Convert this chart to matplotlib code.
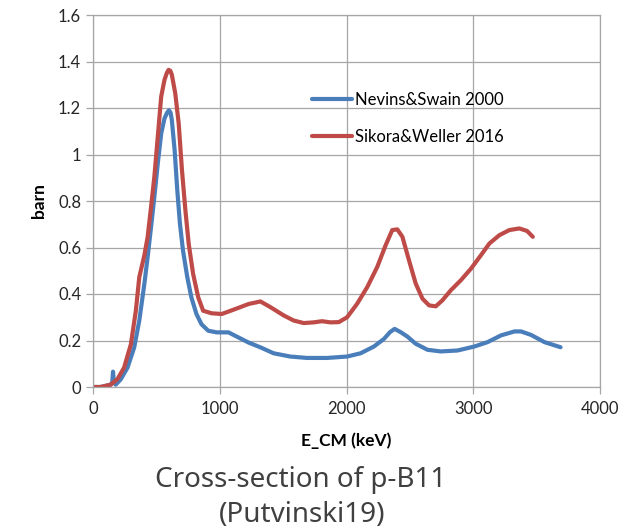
import matplotlib
matplotlib.use("Agg")
import matplotlib.pyplot as plt

# Nevins & Swain 2000
ns_e = [0, 60, 139, 152, 158, 165, 179, 219, 272, 325, 365, 405, 431, 458, 484, 511, 538, 564,
        585, 599, 612, 622, 644, 665, 686, 710, 744, 776, 816, 856, 909, 976, 1069, 1148, 1228,
        1319, 1425, 1557, 1689, 1847, 2005, 2111, 2216, 2296, 2343, 2380, 2427, 2480, 2546,
        2639, 2744, 2876, 3008, 3113, 3219, 3325, 3377, 3456, 3562, 3689]
ns_v = [0.0, 0.0, 0.01, 0.02, 0.066, 0.02, 0.01, 0.033, 0.083, 0.17, 0.285, 0.443, 0.558,
        0.688, 0.817, 0.961, 1.09, 1.155, 1.18, 1.19, 1.18, 1.148, 1.019, 0.846, 0.702, 0.587,
        0.472, 0.386, 0.314, 0.27, 0.242, 0.235, 0.235, 0.213, 0.191, 0.171, 0.145, 0.131,
        0.125, 0.125, 0.131, 0.145, 0.174, 0.207, 0.236, 0.25, 0.236, 0.217, 0.186, 0.16,
        0.153, 0.157, 0.174, 0.193, 0.222, 0.239, 0.239, 0.224, 0.193, 0.171]

# Sikora & Weller 2016
sw_e = [0, 60, 139, 192, 245, 299, 338, 365, 405, 431, 458, 484, 511, 538, 564, 582, 596, 610,
        622, 649, 676, 702, 729, 755, 790, 830, 869, 936, 1016, 1121, 1228, 1321, 1398, 1504,
        1583, 1662, 1741, 1807, 1873, 1939, 2005, 2084, 2164, 2243, 2309, 2361, 2401, 2441,
        2493, 2546, 2599, 2652, 2704, 2757, 2823, 2902, 2982, 3061, 3127, 3206, 3285, 3364,
        3425, 3470]
sw_v = [0.0, 0.0, 0.01, 0.033, 0.083, 0.184, 0.328, 0.472, 0.566, 0.645, 0.774, 0.904, 1.076,
        1.249, 1.321, 1.35, 1.364, 1.36, 1.343, 1.263, 1.134, 0.932, 0.76, 0.616, 0.486, 0.386,
        0.328, 0.317, 0.314, 0.335, 0.357, 0.368, 0.344, 0.308, 0.286, 0.275, 0.278, 0.283,
        0.278, 0.279, 0.30, 0.358, 0.43, 0.517, 0.61, 0.675, 0.678, 0.646, 0.545, 0.445, 0.38,
        0.351, 0.347, 0.373, 0.416, 0.459, 0.509, 0.567, 0.617, 0.653, 0.675, 0.682, 0.671,
        0.646]

labels = ["Nevins&Swain 2000", "Sikora&Weller 2016"]
x_ticks = [0, 1000, 2000, 3000, 4000]
y_ticks = [0, 0.2, 0.4, 0.6, 0.8, 1.0, 1.2, 1.4, 1.6]
y_tick_labels = ["0", "0.2", "0.4", "0.6", "0.8", "1", "1.2", "1.4", "1.6"]

plt.rcParams['font.family'] = ['Lato', 'DejaVu Sans']

fig = plt.figure(figsize=(6.22, 5.29), dpi=100)
ax = fig.add_axes([93/622, 1 - 387/529, 507/622, 372/529])

grid_c = '#a6a6a6'
ax.plot(ns_e, ns_v, color='#4a7ebb', lw=3.0, label=labels[0],
        solid_capstyle='round', solid_joinstyle='round')
ax.plot(sw_e, sw_v, color='#be4b48', lw=3.0, label=labels[1],
        solid_capstyle='round', solid_joinstyle='round')

ax.set_xlim(0, 4000)
ax.set_ylim(0, 1.6)
ax.set_xticks(x_ticks)
ax.set_yticks(y_ticks)
ax.set_yticklabels(y_tick_labels)
ax.grid(True, color=grid_c, lw=0.9)
ax.set_axisbelow(True)
for s in ax.spines.values():
    s.set_color(grid_c)
    s.set_linewidth(0.9)
ax.tick_params(axis='both', colors=grid_c, labelcolor='#262626', labelsize=12, length=5, width=0.9)
ax.tick_params(axis='x', pad=5)

ax.set_ylabel('barn', fontsize=12.5, fontweight='bold', labelpad=8)
ax.set_xlabel('E_CM (keV)', fontsize=12.5, fontweight='bold', labelpad=11)

leg = ax.legend(loc='upper left', bbox_to_anchor=((305 - 93) / 507, (387 - 85) / 372), frameon=False,
                fontsize=12, handlelength=2.4, handletextpad=0.2, labelspacing=1.25, borderaxespad=0)

title_font = ['Noto Sans', 'DejaVu Sans']
fig.text(301/622, 1 - 487/529, 'Cross-section of p-B11', ha='center', va='baseline',
         fontsize=20, color='#404040', family=title_font)
fig.text(302/622, 1 - 522/529, '(Putvinski19)', ha='center', va='baseline',
         fontsize=20, color='#404040', family=title_font)

fig.savefig('out.png', dpi=100, facecolor='white')
